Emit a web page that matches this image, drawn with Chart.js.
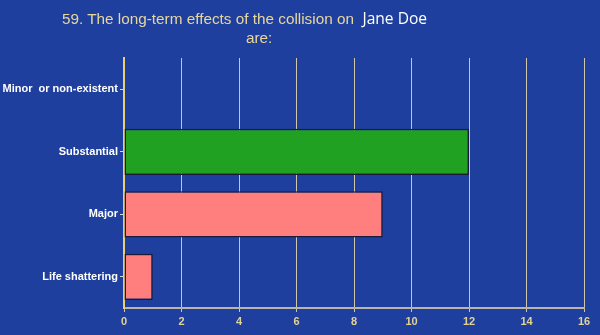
<!DOCTYPE html>
<html>
<head>
<meta charset="utf-8">
<script src="https://cdn.jsdelivr.net/npm/chart.js@4"></script>
<style>
  body { margin: 0; background: #1f3f9e; }
  #wrap { position: relative; width: 600px; height: 335px; }
  .ttl { position: absolute; font-family: "Liberation Sans", Arial, sans-serif; font-size: 15.3px; line-height: 16px; color: #e9d79a; white-space: nowrap; }
  .name { font-family: "Open Sans", sans-serif; color: #ffffff; font-size: 15.6px; }
</style>
</head>
<body>
<div id="wrap">
  <canvas id="effects" width="600" height="335"></canvas>
  <div class="ttl" style="left:62px; top:10px;">59. The long-term effects of the collision on&nbsp; <span class="name">Jane Doe</span></div>
  <div class="ttl" style="left:246px; top:30px;">are:</div>
</div>
<script>
var categories = ['Minor  or non-existent', 'Substantial', 'Major', 'Life shattering'];
var counts = [0, 12, 9, 1];
var barColors = ['#ff7f7f', '#21a121', '#ff7f7f', '#ff7f7f'];
var xTicks = [0, 2, 4, 6, 8, 10, 12, 14, 16];

var ctx = document.getElementById('effects').getContext('2d');
var effectsChart = new Chart(ctx, {
    type: 'bar',
    data: {
        labels: categories,
        datasets: [{
            data: counts,
            backgroundColor: barColors,
            borderColor: '#1a1a3a',
            borderWidth: 1.5,
            borderSkipped: false,
            barPercentage: 0.74,
            categoryPercentage: 1
        }]
    },
    options: {
        indexAxis: 'y',
        responsive: false,
        animation: false,
        layout: { padding: { top: 58, right: 16, left: 0, bottom: 0 } },
        plugins: { legend: { display: false }, tooltip: { enabled: false } },
        scales: {
            x: {
                min: 0,
                max: 16,
                afterBuildTicks: function (axis) {
                    axis.ticks = xTicks.map(function (v) { return { value: v }; });
                },
                afterFit: function (axis) { axis.height = 27; },
                grid: { color: '#cfc7a8', lineWidth: 1, tickLength: 4, tickColor: '#cfc7a8' },
                border: { color: '#b8b4a8', width: 2 },
                ticks: { color: '#e3d294', font: { family: 'Liberation Sans', size: 11, weight: 'bold' }, padding: 3 }
            },
            y: {
                afterFit: function (axis) { axis.width = 124; },
                grid: { offset: false, drawOnChartArea: false, tickLength: 4, tickColor: '#d8d8d8' },
                border: { color: '#e8d070', width: 2 },
                ticks: { color: '#ffffff', font: { family: 'Liberation Sans', size: 11, weight: 'bold' }, padding: 2 }
            }
        }
    }
});
</script>
</body>
</html>
